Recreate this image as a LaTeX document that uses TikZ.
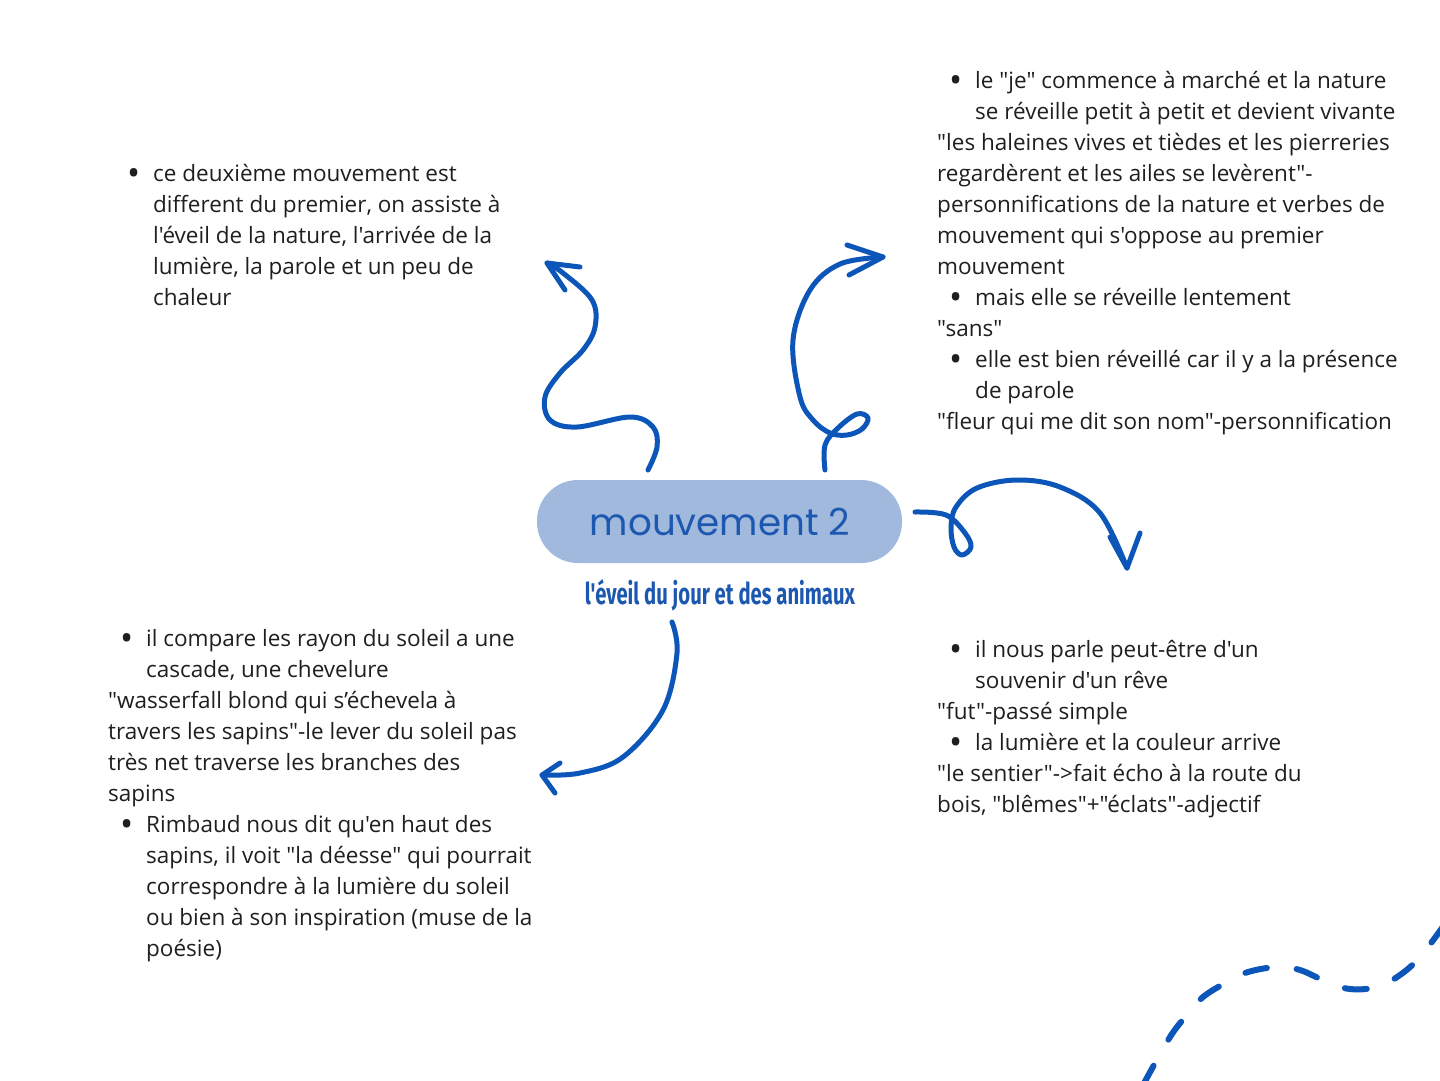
\documentclass[tikz,border=0pt]{standalone}
\usepackage{fontspec}
\usepackage{graphicx}
\newfontfamily\bodyfont{Open Sans}[Ligatures=TeXOff]
\newfontfamily\titlefont{Poppins}
\newfontfamily\subfont{Fira Sans}[Ligatures=TeXOff]
\definecolor{arrowblue}{HTML}{0B56B8}
\definecolor{pillblue}{HTML}{A0B9DC}
\definecolor{titleblue}{HTML}{1D58B0}
\definecolor{textgray}{HTML}{1F1F1F}
\tikzset{
  txt/.style={anchor=base west, inner sep=0pt, text=textgray,
    font=\bodyfont\fontsize{22.5}{27}\selectfont},
  arr/.style={draw=arrowblue, line width=5pt, line cap=round, line join=round},
  dashcurve/.style={draw=arrowblue, line width=6pt, line cap=round, dash pattern=on 22pt off 30pt},
}
\newcommand\bul{\llap{\raisebox{-4.5pt}{\scalebox{1.55}{\textbullet}}\hspace{13pt}}}
\newcommand\txtblock[5]{%
  \foreach \k/\t [count=\i] in {#5} {
    \pgfmathsetmacro\xx{#2+(\k>0)*#3}
    \pgfmathsetmacro\yy{#4+31*(\i-1)}
    \node[txt] (#1\i) at (\xx,\yy) {\ifnum\k=1 \bul\fi\t};
  }}
\begin{document}
\begin{tikzpicture}[x=1pt,y=-1pt]
\useasboundingbox (0,0) rectangle (1440,1080);
\fill[white] (0,0) rectangle (1440,1080);

% central node
\node[fill=pillblue, rounded corners=41pt, minimum width=365pt, minimum height=83pt, inner sep=0pt] (center) at (719.5,521.5) {};
\node[text=titleblue, inner sep=0pt] (title) at (720,522) {\resizebox{260pt}{!}{\titlefont mouvement 2}};
\node[text=titleblue, inner sep=0pt, anchor=base] (subtitle) at (720,604) {\resizebox{270pt}{25pt}{\subfont\bfseries l'éveil du jour et des animaux}};

% text blocks
\txtblock{tl}{115}{38}{181}{
1/{ce deuxième mouvement est},
2/{different du premier, on assiste à},
2/{l'éveil de la nature, l'arrivée de la},
2/{lumière, la parole et un peu de},
2/{chaleur}}

\txtblock{tr}{937}{38}{88}{
1/{le "je" commence à marché et la nature},
2/{se réveille petit à petit et devient vivante},
0/{"les haleines vives et tièdes et les pierreries},
0/{regardèrent et les ailes se levèrent"-},
0/{personnifications de la nature et verbes de},
0/{mouvement qui s'oppose au premier},
0/{mouvement},
1/{mais elle se réveille lentement},
0/{"sans"},
1/{elle est bien réveillé car il y a la présence},
2/{de parole},
0/{"fleur qui me dit son nom"-personnification}}

\txtblock{bl}{108}{38}{646}{
1/{il compare les rayon du soleil a une},
2/{cascade, une chevelure},
0/{"wasserfall blond qui s’échevela à},
0/{travers les sapins"-le lever du soleil pas},
0/{très net traverse les branches des},
0/{sapins},
1/{Rimbaud nous dit qu'en haut des},
2/{sapins, il voit "la déesse" qui pourrait},
2/{correspondre à la lumière du soleil},
2/{ou bien à son inspiration (muse de la},
2/{poésie)}}

\txtblock{br}{937}{38}{657}{
1/{il nous parle peut-être d'un},
2/{souvenir d'un rêve},
0/{"fut"-passé simple},
1/{la lumière et la couleur arrive},
0/{"le sentier"->fait écho à la route du},
0/{bois, "blêmes"+"éclats"-adjectif}}

% arrow ends
\coordinate (aS) at (648,470); \coordinate (aT) at (547,263);
\coordinate (bS) at (825,470); \coordinate (bT) at (883,257);
\coordinate (cS) at (915,512); \coordinate (cT) at (1127,568);
\coordinate (dS) at (672,622); \coordinate (dT) at (542,775);

% arrow A (top-left squiggle)
\draw[arr] plot[smooth, tension=0.6] coordinates {(aS) (657,447) (653,427) (630,417) (577,427) (550,420) (545,397) (560,373) (583,350) (595,327) (592,300) (563,273) (aT)};
\draw[arr] (580,267) -- (aT) -- (565,290);

% arrow B (top-right with loop)
\draw[arr] plot[smooth, tension=0.6] coordinates {(bS) (825,445) (838,428) (857,414) (868,418) (862,429) (847,435) (830,433) (813,420) (800,397) (793,340) (810,290) (840,264) (bT)};
\draw[arr] (847,245) -- (bT) -- (849,275);

% arrow C (right with loop)
\draw[arr] plot[smooth, tension=0.6] coordinates {(cS) (946,515) (965,533) (971,547) (962,555) (954,547) (951,527) (956,507) (977,488) (1017,480) (1060,487) (1100,513) (cT)};
\draw[arr] (1110,537) -- (cT) -- (1140,533);

% arrow D (bottom-left)
\draw[arr] plot[smooth, tension=0.6] coordinates {(dS) (677,653) (663,710) (623,757) (580,773) (dT)};
\draw[arr] (560,763) -- (dT) -- (555,793);

% dashed decorative curve
\coordinate (eS) at (1143,1085); \coordinate (eT) at (1442,928);
\draw[dashcurve] plot[smooth, tension=0.6] coordinates {(eS) (1170,1037) (1187,1015) (1203,997) (1227,982) (1248,972) (1277,967) (1300,970) (1327,982) (1350,989) (1377,987) (1400,975) (1420,957) (eT)};
\end{tikzpicture}
\end{document}
